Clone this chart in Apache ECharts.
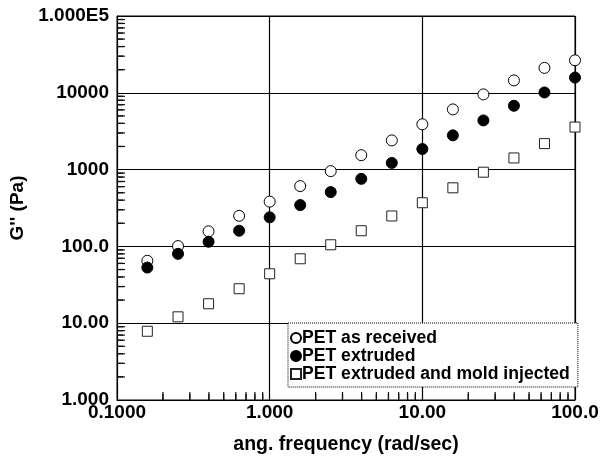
<!DOCTYPE html>
<html>
<head>
<meta charset="utf-8">
<script src="https://cdn.jsdelivr.net/npm/echarts@6/dist/echarts.min.js"></script>
<style>html,body{margin:0;padding:0;background:#fff}#c{width:604px;height:460px}</style>
</head>
<body>
<div id="c"></div>
<script>
const freq = [0.158, 0.251, 0.398, 0.631, 1.0, 1.585, 2.512, 3.981, 6.31, 10, 15.85, 25.12, 39.81, 63.1, 100];
const asReceived = [65, 101, 157, 250, 383, 610, 955, 1540, 2400, 3890, 6080, 9530, 14500, 21100, 26500];
const extruded = [53, 80, 115, 160, 239, 345, 509, 758, 1222, 1855, 2793, 4370, 6780, 10100, 15800];
const moldInjected = [7.85, 12.1, 17.9, 28.1, 44, 69, 105, 160, 249, 370, 579, 925, 1418, 2180, 3580];
const seriesNames = ['PET as received', 'PET extruded', 'PET extruded and mold injected'];
const xTickLabels = ['0.1000', '1.000', '10.00', '100.0'];
const yTickLabels = ['1.000', '10.00', '100.0', '1000', '10000', '1.000E5'];
const xName = 'ang. frequency (rad/sec)';
const yName = "G'' (Pa)";

const FONT = "'Liberation Sans', Arial, sans-serif";
const pairs = (xs, ys) => xs.map((x, i) => [x, ys[i]]);

// minor tick positions (2..9 per decade) — axis decoration
const xMinor = [], yMinor = [];
for (let e = -1; e < 2; e++) for (let k = 2; k <= 9; k++) xMinor.push([k * Math.pow(10, e), 1]);
for (let e = 0; e < 5; e++) for (let k = 2; k <= 9; k++) yMinor.push([0.1, k * Math.pow(10, e)]);

const chart = echarts.init(document.getElementById('c'), null, {renderer: 'canvas'});
const labelStyle = {color: '#000', fontFamily: FONT, fontWeight: 'bold', fontSize: 19};
chart.setOption({
  animation: false,
  backgroundColor: '#fff',
  grid: {left: 117, right: 29, top: 16, bottom: 58, show: true, borderColor: '#000', borderWidth: 1, backgroundColor: 'transparent'},
  xAxis: {
    type: 'log', logBase: 10, min: 0.1, max: 100,
    name: xName, nameLocation: 'middle', nameGap: 35,
    nameTextStyle: {color: '#000', fontFamily: FONT, fontWeight: 'bold', fontSize: 19.5},
    axisLine: {show: true, lineStyle: {color: '#000', width: 1}},
    axisTick: {show: false},
    splitLine: {show: true, lineStyle: {color: '#000', width: 1.2}},
    axisLabel: Object.assign({margin: 3, showMinLabel: true, showMaxLabel: true,
      formatter: v => xTickLabels[Math.round(Math.log10(v)) + 1]}, labelStyle)
  },
  yAxis: {
    type: 'log', logBase: 10, min: 1, max: 100000,
    name: yName, nameLocation: 'middle', nameGap: 87, nameRotate: 90,
    nameTextStyle: {color: '#000', fontFamily: FONT, fontWeight: 'bold', fontSize: 19},
    axisLine: {show: true, lineStyle: {color: '#000', width: 1}},
    axisTick: {show: false},
    splitLine: {show: true, lineStyle: {color: '#000', width: 1.2}},
    axisLabel: Object.assign({margin: 8, showMinLabel: true, showMaxLabel: true,
      formatter: v => yTickLabels[Math.round(Math.log10(v))]}, labelStyle)
  },
  legend: {
    orient: 'vertical', left: 288, top: 323,
    data: seriesNames,
    itemWidth: 10, itemHeight: 10, itemGap: 0,
    padding: [6, 8, 4, 2],
    backgroundColor: '#fff', borderColor: '#000', borderWidth: 1, borderType: 'dotted',
    textStyle: {color: '#000', fontFamily: FONT, fontWeight: 'bold', fontSize: 17.6, lineHeight: 16.5, padding: [0, 0, 0, -4]},
    selectedMode: false
  },
  series: [
    {name: 'xminorC', type: 'custom', clip: false, data: xMinor, z: 10,
      renderItem: (p, api) => { const c = api.coord([api.value(0), api.value(1)]);
        return {type: 'rect', shape: {x: c[0] - 0.6, y: c[1] - 6, width: 1.2, height: 6}, style: {fill: '#000'}}; }},
    {name: 'yminorC', type: 'custom', clip: false, data: yMinor, z: 10,
      renderItem: (p, api) => { const c = api.coord([api.value(0), api.value(1)]);
        return {type: 'rect', shape: {x: c[0], y: c[1] - 0.6, width: 6, height: 1.2}, style: {fill: '#000'}}; }},
    {name: 'xminor', type: 'scatter', clip: false, data: xMinor, z: 10,
      symbol: 'rect', symbolSize: [1.2, 8], symbolOffset: [0, -4],
      itemStyle: {color: '#101010', opacity: 1}},
    {name: 'yminor', type: 'scatter', clip: false, data: yMinor, z: 10,
      symbol: 'rect', symbolSize: [8, 1.2], symbolOffset: [4, 0],
      itemStyle: {color: '#101010', opacity: 1}},
    {name: seriesNames[0], type: 'scatter', symbol: 'circle', symbolSize: 11, data: pairs(freq, asReceived), z: 3,
      itemStyle: {color: '#fff', borderColor: '#000', borderWidth: 1, opacity: 1}},
    {name: seriesNames[1], type: 'scatter', symbol: 'circle', symbolSize: 11, data: pairs(freq, extruded), z: 4,
      itemStyle: {color: '#000', borderColor: '#000', borderWidth: 1, opacity: 1}},
    {name: seriesNames[2], type: 'scatter', symbol: 'rect', symbolSize: 10, data: pairs(freq, moldInjected), z: 3,
      itemStyle: {color: '#fff', borderColor: '#222', borderWidth: 1, opacity: 1}}
  ]
});
</script>
</body>
</html>
